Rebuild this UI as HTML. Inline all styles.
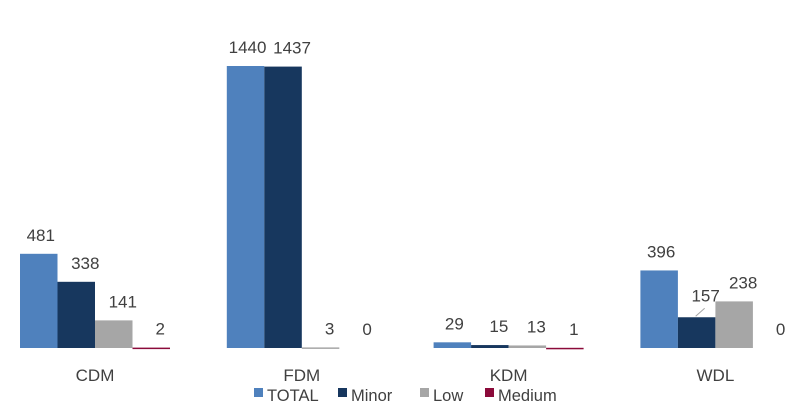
<!DOCTYPE html>
<html><head><meta charset="utf-8"><style>
body{margin:0;background:#fff;}
svg text{font-family:"Liberation Sans",sans-serif;fill:#404040;}
</style></head><body>
<svg width="800" height="402" xmlns="http://www.w3.org/2000/svg">
<g id="bars"></g><g id="labels"></g><g id="cats"></g><g id="legend"></g>
</svg>
<script>
const categories=["CDM","FDM","KDM","WDL"];
const seriesNames=["TOTAL","Minor","Low","Medium"];
const totalVals=[481,1440,29,396];
const minorVals=[338,1437,15,157];
const lowVals=[141,3,13,238];
const mediumVals=[2,0,1,0];
const colors=["#4f81bd","#17375e","#a6a6a6","#8b0a3a"];
const series=[totalVals,minorVals,lowVals,mediumVals];
const NS="http://www.w3.org/2000/svg";
const base=348, scale=282/1440, x0=20, groupW=206.8, barW=37.5;
const y=v=>base-v*scale;
const gx=(c,s)=>x0+c*groupW+s*barW;
function mk(tag,attrs,parent){const e=document.createElementNS(NS,tag);for(const k in attrs)e.setAttribute(k,attrs[k]);document.getElementById(parent).appendChild(e);return e;}
categories.forEach((c,ci)=>{
  series.forEach((vals,si)=>{
    const v=vals[ci];
    const r=mk("rect",{x:gx(ci,si),y:y(v),width:barW,height:Math.max(base-y(v),v>0?1.5:0),fill:colors[si]},"bars");
    
    
    let lx=gx(ci,si)+barW/2+(si===0?2:9), ly=Math.min(y(v)-13,335);
    if(c==="WDL"&&si===1){
      const ln=mk("line",{x1:gx(ci,si)+barW/2-1,y1:y(v)-1,x2:gx(ci,si)+barW/2+8,y2:y(v)-9,stroke:"#a6a6a6"},"labels");
      
      
      ly=y(v)-16;}
    const t=mk("text",{x:lx,y:ly,"font-size":17,"text-anchor":"middle"},"labels");
    t.textContent=v;
    
    
  });
  const t=mk("text",{x:gx(ci,2),y:381,"font-size":17,"text-anchor":"middle"},"cats");
  t.textContent=c;
  
  
});
const lx=[254,338,420,485];
seriesNames.forEach((n,i)=>{
  const r=mk("rect",{x:lx[i],y:388,width:9,height:9,fill:colors[i]},"legend");
  
  
  const t=mk("text",{x:lx[i]+13,y:401,"font-size":16.5},"legend");
  t.textContent=n;
  
  
});
</script>
</body></html>
